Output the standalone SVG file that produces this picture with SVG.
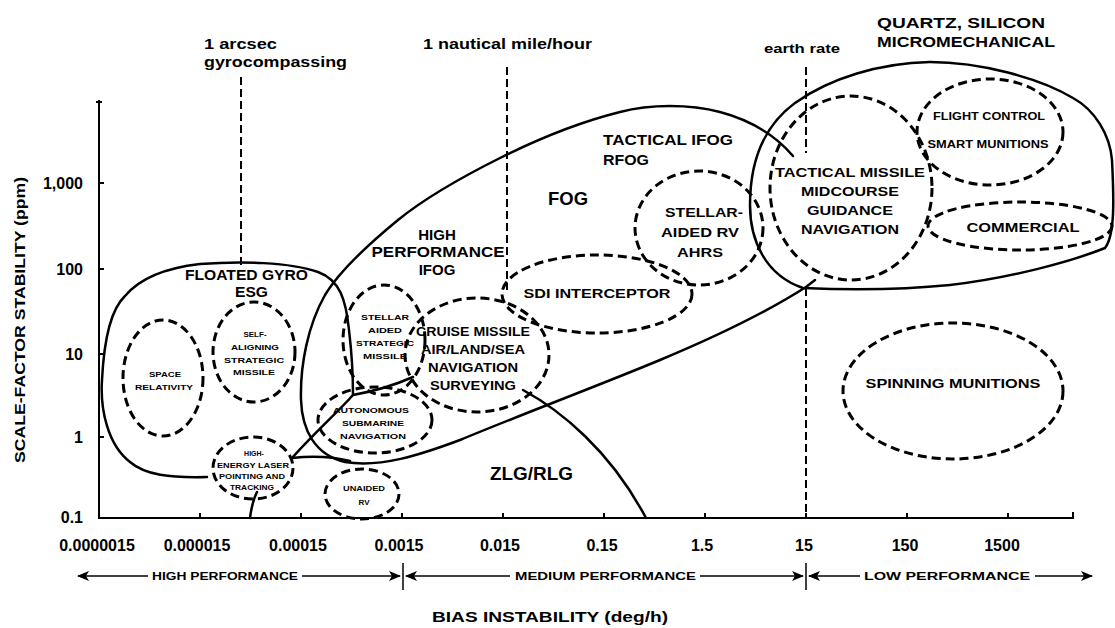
<svg xmlns="http://www.w3.org/2000/svg" width="1115" height="628" viewBox="0 0 1115 628">
<style>
text{font-family:"Liberation Sans",Arial,sans-serif;font-weight:bold;fill:#000}
.s{fill:none;stroke:#000;stroke-width:2.5;stroke-linejoin:round;stroke-linecap:round}
.d{fill:none;stroke:#000;stroke-width:3;stroke-dasharray:9 5}
.v{fill:none;stroke:#000;stroke-width:2;stroke-dasharray:8 4}
.ax{fill:none;stroke:#000;stroke-width:2}
.ar{fill:none;stroke:#000;stroke-width:1.5}
.c{text-anchor:middle}
.e{text-anchor:end}
.tn{font-size:8px}
.tm{font-size:13px}
.tl{font-size:15px}
.n{font-size:16px}
.p{font-size:11px}
</style>
<defs>
<marker id="ah" viewBox="0 0 12 10" refX="11" refY="5" markerWidth="12" markerHeight="10" markerUnits="userSpaceOnUse" orient="auto">
<path d="M0,0 L12,5 L0,10 L3,5 Z" fill="#000"/>
</marker>
</defs>

<g id="axes">
<path class="ax" d="M99,100 L99,518 L1073,518 L1073,512"/>
<path class="ax" d="M96,102 L102,102 M99,183 L104,183 M99,269 L104,269 M99,354 L104,354 M99,437 L104,437"/>
<path class="ax" d="M200,518 L200,513 M301,518 L301,513 M402,518 L402,513 M503,518 L503,513 M604,518 L604,513 M705,518 L705,513 M806,518 L806,513 M907,518 L907,513 M1008,518 L1008,513"/>
<text class="n e" x="83" y="189">1,000</text>
<text class="n e" x="83" y="275">100</text>
<text class="n e" x="83" y="360">10</text>
<text class="n e" x="83" y="443">1</text>
<text class="n e" x="83" y="523">0.1</text>
<text class="n c" x="97" y="551">0.0000015</text>
<text class="n c" x="197" y="551">0.000015</text>
<text class="n c" x="298" y="551">0.00015</text>
<text class="n c" x="399" y="551">0.0015</text>
<text class="n c" x="500" y="551">0.015</text>
<text class="n c" x="602" y="551">0.15</text>
<text class="n c" x="702" y="551">1.5</text>
<text class="n c" x="804" y="551">15</text>
<text class="n c" x="905" y="551">150</text>
<text class="n c" x="1002" y="551">1500</text>
<text class="tl c" transform="translate(25,320) rotate(-90)" textLength="286" lengthAdjust="spacingAndGlyphs">SCALE-FACTOR STABILITY (ppm)</text>
<text class="tl c" x="550" y="622" textLength="236" lengthAdjust="spacingAndGlyphs">BIAS INSTABILITY (deg/h)</text>
</g>

<g id="performance">
<path class="ar" d="M148,576 L78,576" marker-end="url(#ah)"/>
<path class="ar" d="M302,576 L400,576" marker-end="url(#ah)"/>
<path class="ar" d="M403,563 L403,590"/>
<path class="ar" d="M510,576 L406,576" marker-end="url(#ah)"/>
<path class="ar" d="M700,576 L803,576" marker-end="url(#ah)"/>
<path class="ar" d="M806,563 L806,590"/>
<path class="ar" d="M860,576 L809,576" marker-end="url(#ah)"/>
<path class="ar" d="M1035,576 L1092,576" marker-end="url(#ah)"/>
<text class="p" x="152" y="580" textLength="146" lengthAdjust="spacingAndGlyphs">HIGH PERFORMANCE</text>
<text class="p" x="515" y="580" textLength="181" lengthAdjust="spacingAndGlyphs">MEDIUM PERFORMANCE</text>
<text class="p" x="864" y="580" textLength="166" lengthAdjust="spacingAndGlyphs">LOW PERFORMANCE</text>
</g>

<g id="references">
<path class="v" d="M241,77 L241,265"/>
<path class="v" d="M507,67 L507,290"/>
<path class="v" d="M806,67 L806,153 M806,288 L806,518"/>
<text class="tl" x="204" y="49" textLength="73" lengthAdjust="spacingAndGlyphs">1 arcsec</text>
<text class="tl" x="204" y="67" textLength="143" lengthAdjust="spacingAndGlyphs">gyrocompassing</text>
<text class="tl" x="423" y="49" textLength="169" lengthAdjust="spacingAndGlyphs">1 nautical mile/hour</text>
<text class="tm" x="764" y="53" textLength="76" lengthAdjust="spacingAndGlyphs">earth rate</text>
</g>

<g id="regions">
<path id="floated-gyro" class="s" d="M207,477 C170,478 145,475 130,462 C108,445 100,410 102,380 C104,340 110,310 125,296 C140,278 165,268 200,264 C240,261 290,262 318,272 C340,280 346,300 349,330 C352,355 353,375 353,395 C340,410 315,432 292,458"/>
<path id="fog" class="s" d="M793,156 C775,135 750,120 720,112 C690,104 650,104 620,112 C580,122 540,138 500,158 C460,178 425,198 398,220 C370,243 340,270 325,295 C308,325 300,365 301,400 C302,430 315,455 345,462 C380,468 420,455 460,440 C520,415 600,385 660,360 C720,335 770,310 806,287 L815,280"/>
<path class="s" d="M292,458 C310,456 330,456 350,461"/>
<path id="zlg" class="s" d="M353,395 C370,392 395,385 413,377 M523,390 C560,410 610,450 646,518 M257,492 C253,500 251,510 250,518"/>
<path id="quartz" class="s" d="M803,288 C850,290 900,290 950,285 C1010,278 1070,262 1105,248 C1115,235 1114,200 1112,160 C1110,135 1095,110 1073,98 C1040,78 980,62 930,62 C880,63 830,78 795,103 C765,125 750,160 750,205 C750,240 765,275 803,288 Z"/>
<text class="tl" x="185" y="280" textLength="123" lengthAdjust="spacingAndGlyphs">FLOATED GYRO</text>
<text class="tl" x="235" y="297" textLength="33" lengthAdjust="spacingAndGlyphs">ESG</text>
<text class="tl c" x="437" y="240">HIGH</text>
<text class="tl c" x="438" y="257" textLength="133" lengthAdjust="spacingAndGlyphs">PERFORMANCE</text>
<text class="tl c" x="437" y="275">IFOG</text>
<text x="548" y="205" font-size="18" textLength="40" lengthAdjust="spacingAndGlyphs">FOG</text>
<text class="tl" x="603" y="145" textLength="130" lengthAdjust="spacingAndGlyphs">TACTICAL IFOG</text>
<text class="tl" x="603" y="165" textLength="46" lengthAdjust="spacingAndGlyphs">RFOG</text>
<text x="490" y="480" font-size="18" textLength="83" lengthAdjust="spacingAndGlyphs">ZLG/RLG</text>
<text class="tl" x="877" y="28" textLength="168" lengthAdjust="spacingAndGlyphs">QUARTZ, SILICON</text>
<text class="tl" x="877" y="47" textLength="178" lengthAdjust="spacingAndGlyphs">MICROMECHANICAL</text>
</g>

<g id="space-relativity">
<ellipse class="d" cx="163" cy="378" rx="40" ry="58"/>
<text class="tn c" x="165" y="377" textLength="32" lengthAdjust="spacingAndGlyphs">SPACE</text>
<text class="tn c" x="164" y="390" textLength="58" lengthAdjust="spacingAndGlyphs">RELATIVITY</text>
</g>

<g id="self-aligning">
<ellipse class="d" cx="254" cy="352" rx="41" ry="50"/>
<text class="tn c" x="255" y="337">SELF-</text>
<text class="tn c" x="255" y="350" textLength="48" lengthAdjust="spacingAndGlyphs">ALIGNING</text>
<text class="tn c" x="254" y="363" textLength="60" lengthAdjust="spacingAndGlyphs">STRATEGIC</text>
<text class="tn c" x="254" y="375" textLength="42" lengthAdjust="spacingAndGlyphs">MISSILE</text>
</g>

<g id="laser">
<ellipse class="d" cx="253" cy="468" rx="40" ry="31"/>
<text class="c" font-size="7" x="254" y="456">HIGH-</text>
<text class="c" font-size="7" x="253" y="468" textLength="72" lengthAdjust="spacingAndGlyphs">ENERGY LASER</text>
<text class="c" font-size="7" x="252" y="479" textLength="66" lengthAdjust="spacingAndGlyphs">POINTING AND</text>
<text class="c" font-size="7" x="252" y="490" textLength="44" lengthAdjust="spacingAndGlyphs">TRACKING</text>
</g>

<g id="unaided-rv">
<ellipse class="d" cx="362" cy="494" rx="37" ry="25"/>
<text class="tn c" x="364" y="491" textLength="42" lengthAdjust="spacingAndGlyphs">UNAIDED</text>
<text class="tn c" x="364" y="505">RV</text>
</g>

<g id="autonomous">
<ellipse class="d" cx="375" cy="420" rx="57" ry="33"/>
<text class="tn c" x="371" y="413" textLength="76" lengthAdjust="spacingAndGlyphs">AUTONOMOUS</text>
<text class="tn c" x="373" y="426" textLength="62" lengthAdjust="spacingAndGlyphs">SUBMARINE</text>
<text class="tn c" x="373" y="439" textLength="66" lengthAdjust="spacingAndGlyphs">NAVIGATION</text>
</g>

<g id="stellar-strategic">
<ellipse class="d" cx="384" cy="340" rx="41" ry="55"/>
<text class="tn c" x="385" y="320" textLength="48" lengthAdjust="spacingAndGlyphs">STELLAR</text>
<text class="tn c" x="385" y="333" textLength="34" lengthAdjust="spacingAndGlyphs">AIDED</text>
<text class="tn c" x="385" y="346" textLength="58" lengthAdjust="spacingAndGlyphs">STRATEGIC</text>
<text class="tn c" x="385" y="359" textLength="44" lengthAdjust="spacingAndGlyphs">MISSILE</text>
</g>

<g id="cruise-missile">
<ellipse class="d" cx="477" cy="355" rx="72" ry="57"/>
<text class="tm c" x="473" y="336" textLength="114" lengthAdjust="spacingAndGlyphs">CRUISE MISSILE</text>
<text class="tm c" x="473" y="354" textLength="104" lengthAdjust="spacingAndGlyphs">AIR/LAND/SEA</text>
<text class="tm c" x="473" y="372" textLength="90" lengthAdjust="spacingAndGlyphs">NAVIGATION</text>
<text class="tm c" x="473" y="390" textLength="86" lengthAdjust="spacingAndGlyphs">SURVEYING</text>
</g>

<g id="sdi">
<ellipse class="d" cx="597" cy="294" rx="95" ry="39"/>
<text class="tm c" x="597" y="298" textLength="147" lengthAdjust="spacingAndGlyphs">SDI INTERCEPTOR</text>
</g>

<g id="stellar-rv">
<ellipse class="d" cx="699" cy="228" rx="64" ry="57"/>
<text class="tm c" x="704" y="217" textLength="78" lengthAdjust="spacingAndGlyphs">STELLAR-</text>
<text class="tm c" x="700" y="237" textLength="78" lengthAdjust="spacingAndGlyphs">AIDED RV</text>
<text class="tm c" x="700" y="257" textLength="46" lengthAdjust="spacingAndGlyphs">AHRS</text>
</g>

<g id="tactical-missile">
<ellipse class="d" cx="851" cy="188" rx="81" ry="92"/>
<text class="tm c" x="850" y="177" textLength="150" lengthAdjust="spacingAndGlyphs">TACTICAL MISSILE</text>
<text class="tm c" x="850" y="196" textLength="98" lengthAdjust="spacingAndGlyphs">MIDCOURSE</text>
<text class="tm c" x="850" y="215" textLength="86" lengthAdjust="spacingAndGlyphs">GUIDANCE</text>
<text class="tm c" x="850" y="234" textLength="98" lengthAdjust="spacingAndGlyphs">NAVIGATION</text>
</g>

<g id="flight-control">
<ellipse class="d" cx="990" cy="132" rx="73" ry="53"/>
<text class="c" font-size="10" x="989" y="120" textLength="112" lengthAdjust="spacingAndGlyphs">FLIGHT CONTROL</text>
<text class="c" font-size="10" x="988" y="148" textLength="121" lengthAdjust="spacingAndGlyphs">SMART MUNITIONS</text>
</g>

<g id="commercial">
<ellipse class="d" cx="1020" cy="226" rx="92" ry="24"/>
<text class="tm c" x="1023" y="232" textLength="113" lengthAdjust="spacingAndGlyphs">COMMERCIAL</text>
</g>

<g id="spinning-munitions">
<ellipse class="d" cx="953" cy="391" rx="110" ry="68"/>
<text class="tm c" x="953" y="388" textLength="175" lengthAdjust="spacingAndGlyphs">SPINNING MUNITIONS</text>
</g>
</svg>
